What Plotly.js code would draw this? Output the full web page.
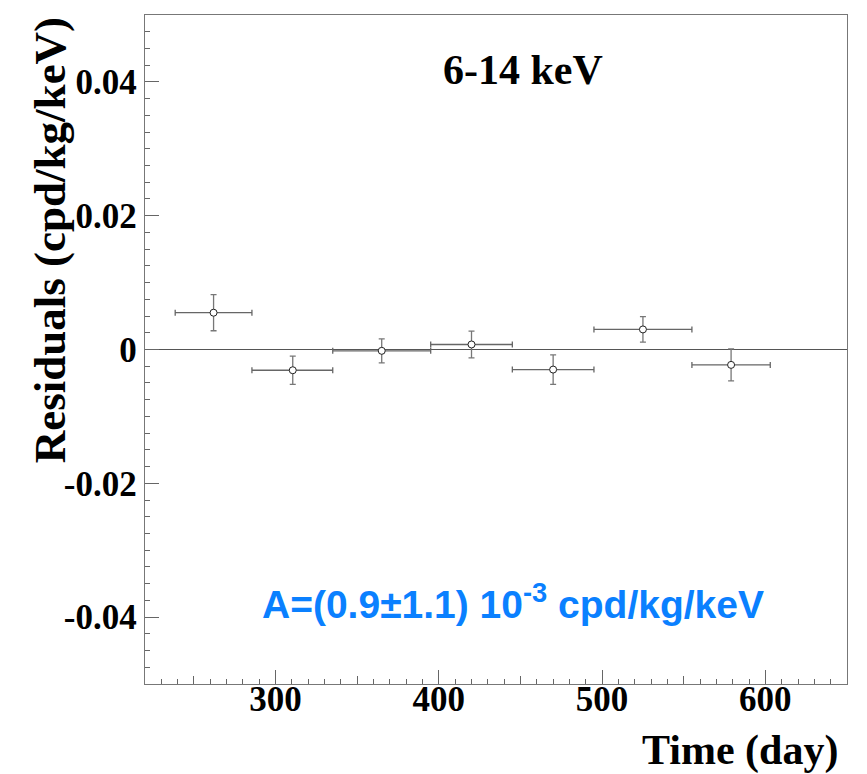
<!DOCTYPE html>
<html>
<head>
<meta charset="utf-8">
<script src="https://cdn.plot.ly/plotly-3.0.1.min.js"></script>
<style>html,body{margin:0;padding:0;background:#fff;}#chart{width:867px;height:774px;}</style>
</head>
<body>
<div id="chart"></div>
<script>
// Data
const timeDay   = [262, 310.5, 365, 420, 470, 525, 579];
const binLow    = [238.5, 285.5, 335, 395, 445, 495, 555];
const binHigh   = [285.5, 335, 395, 445, 495, 555, 603];
const residuals = [0.0055, -0.0031, -0.0002, 0.00075, -0.0030, 0.0030, -0.0023];
const resErr    = [0.0027, 0.0021, 0.0018, 0.0020, 0.0022, 0.0019, 0.0024];

const yTickVals = [-0.04, -0.02, 0, 0.02, 0.04];
const yTickText = ['-0.04', '-0.02', '0', '0.02', '0.04'];
const xMidTicks = [250, 350, 450, 550, 650];

const energyLabel = '6-14 keV';
const fitLabel = 'A=(0.9\u00b11.1) 10<sup>-3</sup> cpd/kg/keV';

const errPlus  = timeDay.map((t, i) => binHigh[i] - t);
const errMinus = timeDay.map((t, i) => t - binLow[i]);

const serif = {family: 'Liberation Serif, Times New Roman, serif', color: '#000', weight: 700};

const traces = [
  {
    type: 'scatter', mode: 'markers',
    x: timeDay, y: residuals,
    error_x: {type: 'data', symmetric: false, array: errPlus, arrayminus: errMinus,
              color: '#666', thickness: 1.3, width: 3},
    error_y: {type: 'data', array: resErr, color: '#777', thickness: 1.3, width: 3},
    marker: {symbol: 'circle', size: 7, color: '#fff', line: {color: '#222', width: 1}},
    showlegend: false, hoverinfo: 'x+y'
  },
  {type: 'scatter', mode: 'markers', x: [], y: [], xaxis: 'x2', showlegend: false}
];

const layout = {
  width: 867, height: 774,
  margin: {l: 145, r: 20, t: 15, b: 90, pad: 0},
  paper_bgcolor: '#fff', plot_bgcolor: '#fff',
  showlegend: false,
  xaxis: {
    range: [220, 650], tick0: 0, dtick: 100,
    ticks: 'inside', ticklen: 14, tickwidth: 1, tickcolor: '#666',
    minor: {dtick: 10, ticks: 'inside', ticklen: 5, tickcolor: '#666', tickwidth: 1, showgrid: false},
    showgrid: false, zeroline: false,
    showline: true, linecolor: '#777', linewidth: 1.3, mirror: true,
    tickfont: Object.assign({size: 35}, serif),
    ticklabelstandoff: -16
  },
  xaxis2: {
    overlaying: 'x', range: [220, 650], side: 'bottom',
    tickvals: xMidTicks, ticks: 'inside', ticklen: 8, tickcolor: '#666', tickwidth: 1,
    showticklabels: false, showgrid: false, zeroline: false, showline: false
  },
  yaxis: {
    range: [-0.05, 0.05], tickvals: yTickVals, ticktext: yTickText,
    ticks: 'inside', ticklen: 14, tickwidth: 1, tickcolor: '#666',
    minor: {dtick: 0.0025, tick0: 0, ticks: 'inside', ticklen: 5, tickcolor: '#666', tickwidth: 1, showgrid: false},
    showgrid: false,
    zeroline: true, zerolinecolor: '#555', zerolinewidth: 1.2,
    showline: true, linecolor: '#777', linewidth: 1.3, mirror: true,
    tickfont: Object.assign({size: 35}, serif),
    ticklabelstandoff: 0
  },
  annotations: [
    {text: 'Residuals (cpd/kg/keV)', xref: 'paper', yref: 'paper',
     x: -0.135, y: 1.0, xanchor: 'center', yanchor: 'top', textangle: -90,
     showarrow: false, font: Object.assign({size: 45}, serif)},
    {text: 'Time (day)', xref: 'paper', yref: 'paper',
     x: 0.99, y: -0.099, xanchor: 'right', yanchor: 'middle',
     showarrow: false, font: Object.assign({size: 42}, serif)},
    {text: energyLabel, xref: 'paper', yref: 'paper',
     x: 0.538, y: 0.918, xanchor: 'center', yanchor: 'middle',
     showarrow: false, font: Object.assign({size: 42}, serif)},
    {text: fitLabel, xref: 'paper', yref: 'paper',
     x: 0.524, y: 0.1226, xanchor: 'center', yanchor: 'middle',
     showarrow: false,
     font: {family: 'Liberation Sans, Arial, sans-serif', size: 39, color: '#0a80ff', weight: 700}}
  ]
};

Plotly.newPlot('chart', traces, layout, {displayModeBar: false, staticPlot: true});
</script>
</body>
</html>
